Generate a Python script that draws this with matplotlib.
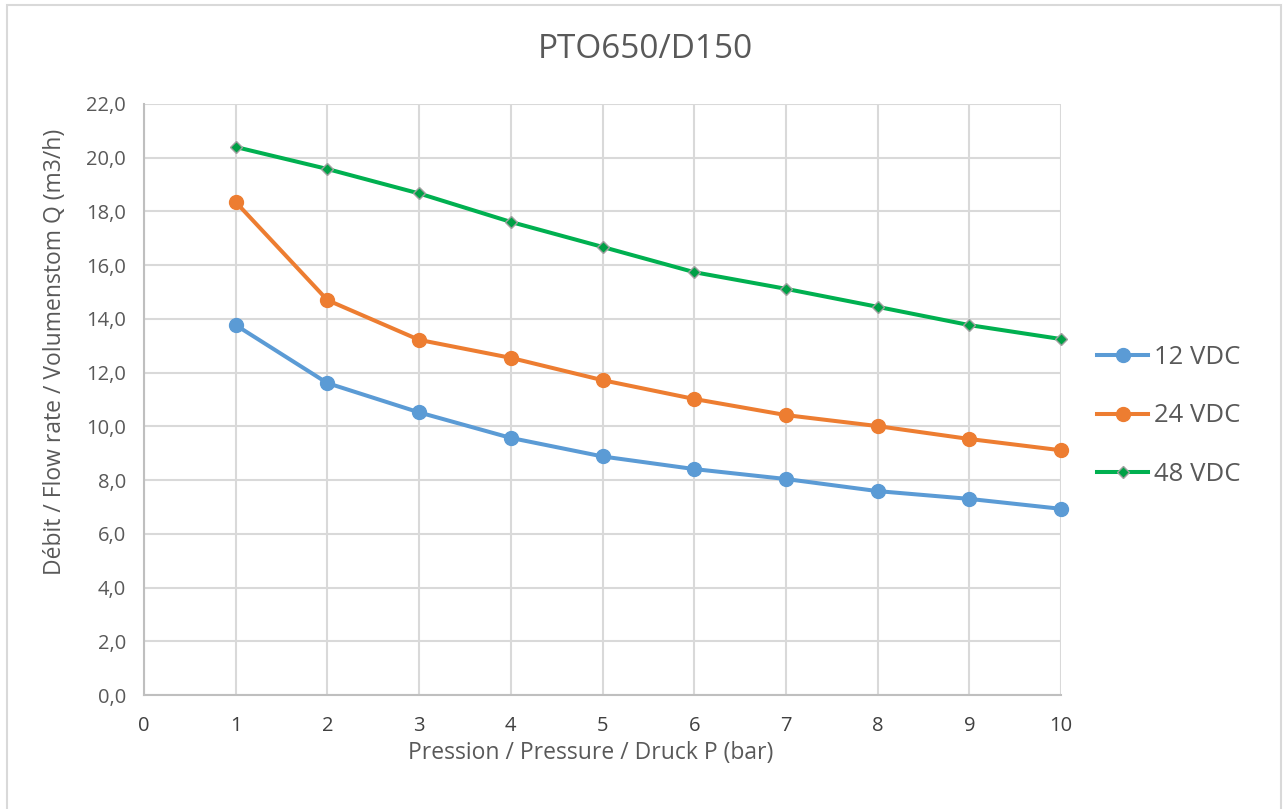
# PTO650/D150 pump curve: flow rate vs pressure for three supply voltages.
import matplotlib
matplotlib.use('Agg')
import matplotlib.pyplot as plt
from matplotlib.patches import Rectangle
from matplotlib.ticker import FuncFormatter

pressure = [1, 2, 3, 4, 5, 6, 7, 8, 9, 10]
flow_12 = [13.77, 11.61, 10.52, 9.57, 8.88, 8.41, 8.04, 7.59, 7.30, 6.93]
flow_24 = [18.35, 14.70, 13.22, 12.55, 11.72, 11.02, 10.42, 10.01, 9.53, 9.11]
flow_48 = [20.40, 19.58, 18.67, 17.61, 16.68, 15.74, 15.12, 14.45, 13.77, 13.25]
labels = ['12 VDC', '24 VDC', '48 VDC']

TEXT = '#595959'
GRID = '#d9d9d9'
W, H = 1284, 809

plt.rcParams['font.family'] = ['Open Sans', 'DejaVu Sans']

fig = plt.figure(figsize=(W / 100, H / 100), dpi=100)
ax = fig.add_axes([144 / W, 1 - 695 / H, (1061 - 144) / W, (695 - 104) / H])

# Excel-like chart border
fig.patches.append(Rectangle((7 / W, -0.01), 1274 / W, 1 - 5 / H + 0.01,
                             transform=fig.transFigure, fill=False,
                             edgecolor='#d9d9d9', linewidth=1.5))

ax.plot(pressure, flow_12, color='#5b9bd5', lw=2.9, marker='o', ms=10,
        markeredgecolor='#5b9bd5', label=labels[0], zorder=3, clip_on=False)
ax.plot(pressure, flow_24, color='#ed7d31', lw=2.9, marker='o', ms=10,
        markeredgecolor='#ed7d31', label=labels[1], zorder=3, clip_on=False)
ax.plot(pressure, flow_48, color='#00b050', lw=2.9, marker='D', ms=6.5,
        markerfacecolor='#00a046', markeredgecolor='#a0a0a0', markeredgewidth=1,
        label=labels[2], zorder=3, clip_on=False)

ax.set_xlim(0, 10)
ax.set_ylim(0, 22)
ax.set_xticks(range(0, 11))
ax.set_yticks(range(0, 23, 2))
ax.yaxis.set_major_formatter(FuncFormatter(lambda v, p: f'{v:.1f}'.replace('.', ',')))
ax.grid(True, color=GRID, lw=1.5)
ax.set_axisbelow(True)
for s in ['top', 'right']:
    ax.spines[s].set_visible(False)
for s in ['left', 'bottom']:
    ax.spines[s].set_color('#bfbfbf')
    ax.spines[s].set_linewidth(1.5)
ax.tick_params(length=0, labelsize=14.5)
ax.tick_params(axis='x', pad=15, labelcolor='#404040')
ax.tick_params(axis='y', pad=13, labelcolor=TEXT)

fig.text(645 / W, 1 - 50 / H, 'PTO650/D150', fontsize=24, color=TEXT,
         ha='center', va='center')
fig.text(591 / W, 1 - 753 / H, 'Pression / Pressure / Druck P (bar)', fontsize=16.5,
         color=TEXT, ha='center', va='center')
fig.text(55 / W, 1 - 352 / H, 'Débit / Flow rate / Volumenstom Q (m3/h)', fontsize=16.5,
         color=TEXT, ha='center', va='center', rotation=90)

fig.legend(loc='center left', bbox_to_anchor=(1097 / W, 1 - 416 / H),
           frameon=False, fontsize=18.5, labelcolor=TEXT, handlelength=2.0,
           labelspacing=1.32, handletextpad=0.2, borderaxespad=0, borderpad=0)

fig.savefig('out.png', dpi=100)
